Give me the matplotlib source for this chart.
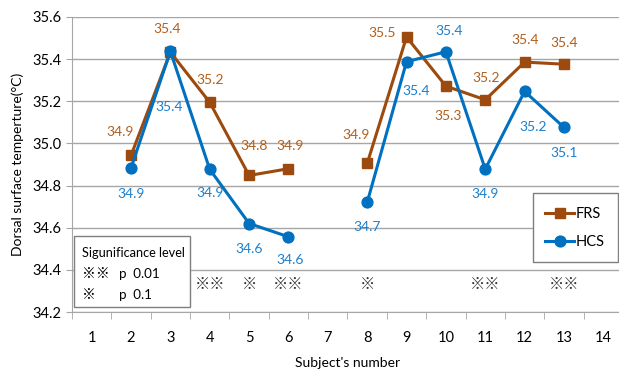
import numpy as np
import matplotlib.pyplot as plt
from matplotlib.patches import Rectangle

# sujetos y temperaturas medidas (7 y 14 sin datos)
sujetos = [2, 3, 4, 5, 6, 8, 9, 10, 11, 12, 13]
frs = [34.943, 35.433, 35.195, 34.848, 34.880, 34.905, 35.505, 35.272, 35.207, 35.386, 35.376]
hcs = [34.884, 35.437, 34.877, 34.620, 34.557, 34.720, 35.388, 35.435, 34.878, 35.247, 35.076]

# marcas de significancia por sujeto
marcas_sujetos = [4, 5, 6, 8, 11, 13]
marcas = ["※※", "※", "※※", "※", "※※", "※※"]

# desplazamiento de las etiquetas (pixeles) respecto a cada punto
off_frs = [(-11, 23), (-3, 23), (0, 22), (5, 29), (2, 23), (-11, 28),
           (-24, 4), (2, -30), (1, 22), (1, 22), (0, 21)]
off_hcs = [(0, -26), (-1, -56), (0, -24), (0, -25), (2, -23), (0, -25),
           (10, -29), (3, 21), (0, -25), (9, -36), (0, -26)]

c_frs, c_frs_txt = "#9C4A0E", "#B0601E"
c_hcs, c_hcs_txt = "#0070C0", "#1C80CE"
gris = "#A6A6A6"
cjk = ["Noto Sans CJK JP", "DejaVu Sans"]

plt.rcParams["font.family"] = ["Lato", "Noto Sans CJK JP", "DejaVu Sans"]

fig = plt.figure(figsize=(6.19, 3.72), dpi=100)
ax = fig.add_axes([72 / 619, 1 - 312 / 372, 551 / 619, 295 / 372])

ax.plot(sujetos[:5], frs[:5], color=c_frs, lw=2.2, marker="s", ms=7.8, zorder=3)
ax.plot(sujetos[5:], frs[5:], color=c_frs, lw=2.2, marker="s", ms=7.8, zorder=3, label="FRS")
ax.plot(sujetos[:5], hcs[:5], color=c_hcs, lw=2.2, marker="o", ms=7.8, zorder=4)
ax.plot(sujetos[5:], hcs[5:], color=c_hcs, lw=2.2, marker="o", ms=7.8, zorder=4, label="HCS")

for x, y, (dx, dy) in zip(sujetos, frs, off_frs):
    ax.annotate(f"{y:.1f}", (x, y), xytext=(dx, dy), textcoords="offset pixels",
                ha="center", va="center", color=c_frs_txt, fontsize=10)
for x, y, (dx, dy) in zip(sujetos, hcs, off_hcs):
    ax.annotate(f"{y:.1f}", (x, y), xytext=(dx, dy), textcoords="offset pixels",
                ha="center", va="center", color=c_hcs_txt, fontsize=10)

for x, m in zip(marcas_sujetos, marcas):
    ax.text(x, 34.33, m, ha="center", va="center", fontsize=11, color="#303030", family=cjk)

ax.set_xlim(0.5, 14.5)
ax.set_ylim(34.2, 35.6)
ax.set_yticks(np.arange(34.2, 35.61, 0.2))
ax.set_yticklabels([f"{v:.1f}" for v in np.arange(34.2, 35.61, 0.2)])
ax.set_xticks(range(1, 15))
ax.set_xticks(np.arange(0.5, 14.6, 1), minor=True)
ax.tick_params(axis="x", which="major", length=0, pad=14, labelsize=10.5)
ax.tick_params(axis="x", which="minor", length=5, color=gris)
ax.tick_params(axis="y", length=4, color=gris, labelsize=10.5)
ax.grid(axis="y", color=gris, lw=1)
ax.set_axisbelow(True)
for s in ["top", "right"]:
    ax.spines[s].set_visible(False)
for s in ["left", "bottom"]:
    ax.spines[s].set_color(gris)

ax.set_xlabel("Subject's number", fontsize=10, labelpad=8)
ax.set_ylabel("Dorsal surface temperture(°C)", fontsize=10, labelpad=6)

# leyenda con recuadro propio
marco = Rectangle((533 / 619, 1 - 262 / 372), 85 / 619, 69 / 372, transform=fig.transFigure,
                  facecolor="white", edgecolor="#7F7F7F", lw=1, zorder=5)
fig.patches.append(marco)
leg = fig.legend(loc="center", bbox_to_anchor=(575 / 619, 1 - 228 / 372), frameon=False,
                 fontsize=10.5, handlelength=2.0, labelspacing=1.0, handletextpad=0.1)
leg.set_zorder(6)

# recuadro de niveles de significancia
caja = Rectangle((74 / 619, 1 - 307 / 372), 116 / 619, 71 / 372, transform=fig.transFigure,
                 facecolor="white", edgecolor="#7F7F7F", lw=1, zorder=5)
fig.patches.append(caja)
fig.text(82 / 619, 1 - 253 / 372, "Sigunificance level", fontsize=9.2, va="center", zorder=6)
fig.text(82 / 619, 1 - 274 / 372, "※※", fontsize=10, va="center", family=cjk, zorder=6)
fig.text(119 / 619, 1 - 274 / 372, "p  0.01", fontsize=9.6, va="center", zorder=6)
fig.text(82 / 619, 1 - 295 / 372, "※", fontsize=10, va="center", family=cjk, zorder=6)
fig.text(119 / 619, 1 - 295 / 372, "p  0.1", fontsize=9.6, va="center", zorder=6)

fig.savefig("out.png", dpi=100)
